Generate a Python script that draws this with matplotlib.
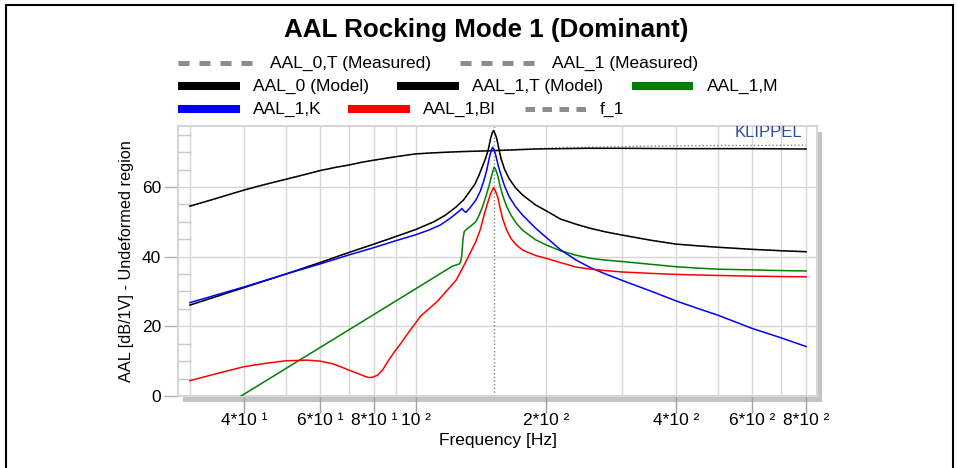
import matplotlib
matplotlib.use('Agg')
import matplotlib.pyplot as plt
from matplotlib.lines import Line2D
from matplotlib.patches import Rectangle
from matplotlib.ticker import FixedLocator, FixedFormatter, NullFormatter

plt.rcParams['font.family'] = ['Liberation Sans', 'DejaVu Sans']

W, H = 958, 468

# ---- data (Hz, dB) ----
aal0_f = [30, 33, 36, 40, 45, 50, 55, 60, 65, 70, 75, 80, 90, 100, 110, 124, 150, 190, 216, 250, 300,
          400, 500, 600, 800]
aal0_model = [54.5, 56.0, 57.4, 59.1, 60.8, 62.2, 63.5, 64.7, 65.6, 66.3, 67.1, 67.7, 68.7, 69.5, 69.8,
              70.1, 70.4, 70.9, 71.0, 71.1, 71.1, 71.0, 71.0, 71.0, 70.9]
aal0_meas = [54.5, 56.0, 57.4, 59.1, 60.8, 62.2, 63.5, 64.7, 65.6, 66.3, 67.1, 67.7, 68.7, 69.5, 69.8,
             70.1, 70.5, 71.0, 71.3, 71.4, 71.6, 71.8, 71.9, 71.9, 72.0]

aal1t_f = [30, 40, 50, 60, 70, 80, 90, 100, 110, 117, 124, 129, 133, 137, 140, 143, 145, 147, 149,
           150.3, 151.3, 152.5, 153.8, 155.5, 157.4, 160.5, 164.4, 170, 176.6, 189.5, 200, 216, 235,
           254, 275, 300, 350, 400, 450, 500, 600, 700, 800]
aal1t_model = [26.1, 31.1, 35.0, 38.3, 41.2, 43.6, 45.8, 47.8, 50.0, 51.9, 54.3, 56.3, 58.6, 60.8, 63.4,
               66.3, 68.2, 70.6, 74.0, 75.6, 76.2, 75.3, 74.0, 71.2, 68.2, 65.0, 62.4, 59.8, 57.7, 54.8,
               53.2, 50.8, 49.3, 48.1, 47.1, 46.2, 44.7, 43.6, 43.1, 42.7, 42.1, 41.7, 41.4]
# measured AAL_1 sits right under the model curve
aal1_meas = [26.1, 31.1, 35.0, 38.3, 41.2, 43.6, 45.8, 47.8, 50.0, 51.9, 54.3, 56.3, 58.6, 60.8, 63.4,
             66.3, 68.2, 70.6, 74.0, 75.5, 76.0, 75.2, 74.0, 71.2, 68.2, 65.0, 62.4, 59.8, 57.7, 54.8,
             53.2, 50.8, 49.3, 48.1, 47.1, 46.2, 44.7, 43.6, 43.1, 42.7, 42.1, 41.7, 41.5]

aal1k_f = [30, 40, 50, 60, 70, 80, 90, 100, 107, 114, 120, 124, 126.5, 127.8, 129, 130.5, 133, 137.6,
           141, 143.8, 146, 147.8, 149.3, 150.5, 151.8, 153, 155, 157.4, 160.5, 164.4, 170, 176.6, 189.5,
           200, 216, 235, 254, 275, 300, 350, 400, 450, 500, 600, 700, 800]
aal1k = [26.8, 31.3, 35.0, 37.9, 40.5, 42.6, 44.6, 46.3, 47.6, 49.1, 51.0, 52.4, 53.3, 53.8, 53.2, 52.7,
         53.8, 56.2, 58.8, 62.0, 65.0, 68.2, 70.3, 71.4, 70.6, 69.2, 66.3, 63.4, 60.2, 57.2, 54.4, 51.9,
         48.1, 45.6, 42.0, 39.0, 36.8, 35.0, 33.2, 30.1, 27.3, 25.1, 23.2, 19.4, 16.7, 14.2]

aal1m_f = [39.4, 100, 121.6, 124, 126, 127, 127.6, 128.2, 128.6, 129.4, 131.7, 134, 137.6, 140, 142.6,
           145, 147.8, 150, 151.8, 153, 154.6, 156.5, 158.7, 162, 166, 171, 176.6, 189.5, 200, 216,
           235, 254, 275, 300, 350, 400, 450, 500, 600, 700, 800]
aal1m = [0.0, 30.8, 37.3, 37.6, 37.9, 38.6, 40.0, 43.0, 45.2, 47.2, 48.1, 48.8, 50.0, 51.8, 54.3,
         57.0, 60.5, 63.6, 65.7, 65.0, 63.4, 60.5, 57.7, 54.6, 51.9, 49.5, 47.6, 44.8, 43.4, 41.7,
         40.4, 39.5, 39.0, 38.6, 37.8, 37.1, 36.7, 36.4, 36.2, 36.0, 35.9]

aal1bl_f = [30, 35, 40, 45, 50, 56, 60, 64, 67, 70, 73.3, 76, 77.9, 79.5, 81.6, 84, 86, 89, 92.3, 96.5,
            102.7, 112, 124, 130.5, 137.6, 141, 143.8, 146.5, 149.1, 151.3, 152.8, 154.6, 156.5,
            158.7, 162, 166, 171, 176.6, 189.5, 202, 216, 235, 254, 275, 300, 350, 400, 500, 600, 800]
aal1bl = [4.4, 6.6, 8.4, 9.4, 10.1, 10.3, 10.0, 9.3, 8.4, 7.4, 6.5, 5.7, 5.3, 5.4, 6.0, 7.7, 9.8, 12.5,
          15.1, 18.5, 23.0, 27.1, 33.3, 38.5, 44.3, 47.8, 51.9, 55.3, 58.2, 59.8, 58.9, 57.2, 54.2,
          51.0, 47.8, 45.2, 43.3, 41.9, 40.3, 39.4, 38.3, 37.0, 36.4, 36.0, 35.6, 35.2, 34.9, 34.6,
          34.4, 34.2]

f_1 = 151.3

xticks = [40, 60, 80, 100, 200, 400, 600, 800]
xtick_labels = ['4*10 ¹', '6*10 ¹', '8*10 ¹', '10 ²', '2*10 ²', '4*10 ²', '6*10 ²', '8*10 ²']
xgrid_minor = [30, 50, 70, 90, 300, 500, 700]
yticks = [0, 20, 40, 60]

# ---- figure ----
fig = plt.figure(figsize=(W / 100, H / 100), dpi=100)

def fx(x):
    return x / W

def fy(y):
    return 1 - y / H

ax_l, ax_r, ax_t, ax_b = 178, 817, 126, 396
ax = fig.add_axes([fx(ax_l), fy(ax_b), (ax_r - ax_l) / W, (ax_b - ax_t) / H])

# drop shadow behind plot box
fig.add_artist(Rectangle((fx(ax_l + 5), fy(ax_b + 6)), (ax_r - ax_l) / W, (ax_b - ax_t) / H,
                         transform=fig.transFigure, facecolor='#c4c4c4', edgecolor='none', zorder=-1))

# outer frame
fig.add_artist(Rectangle((fx(6), fy(475)), (953 - 6) / W, (475 - 5) / H, transform=fig.transFigure,
                         facecolor='none', edgecolor='black', linewidth=1.5, zorder=5))

lw = 1.1
ax.plot(aal0_f, aal0_meas, color='#808080', linestyle=':', lw=1.0, zorder=2)
ax.plot(aal1t_f, aal1_meas, color='#808080', linestyle=':', lw=1.0, zorder=2)
ax.axvline(f_1, color='#808080', linestyle=':', lw=1.0, zorder=2)
ax.plot(aal0_f, aal0_model, color='black', lw=lw, zorder=3)
ax.plot(aal1t_f, aal1t_model, color='black', lw=lw, zorder=3)
ax.plot(aal1m_f, aal1m, color='#008000', lw=lw, zorder=3)
ax.plot(aal1k_f, aal1k, color='#0000ff', lw=lw, zorder=3)
ax.plot(aal1bl_f, aal1bl, color='#ff0000', lw=lw, zorder=3)

ax.set_xscale('log')
ax.set_xlim(28.15, 848)
ax.set_ylim(0, 77.5)

ax.xaxis.set_major_locator(FixedLocator(xticks))
ax.xaxis.set_major_formatter(FixedFormatter(xtick_labels))
ax.xaxis.set_minor_locator(FixedLocator(xgrid_minor))
ax.xaxis.set_minor_formatter(NullFormatter())
ax.yaxis.set_major_locator(FixedLocator(yticks))
ax.yaxis.set_minor_locator(FixedLocator([v for v in range(5, 80, 5) if v % 20]))

ax.grid(True, which='both', axis='x', color='#d6d6d6', lw=1.0, zorder=0)
ax.grid(True, which='major', axis='y', color='#d6d6d6', lw=1.0, zorder=0)
ax.set_axisbelow(True)

ax.tick_params(axis='x', which='major', direction='out', length=12, color='#a0a0a0', width=1,
               labelsize=12.5, pad=0)
ax.tick_params(axis='x', which='minor', length=0)
ax.tick_params(axis='y', which='major', direction='out', length=10, color='#b0b0b0', width=1,
               labelsize=12.5, pad=2)
ax.tick_params(axis='y', which='minor', direction='in', length=9, color='#c8c8c8', width=1)

for s in ax.spines.values():
    s.set_color('#d6d6d6')
    s.set_linewidth(1.5)

ax.set_xlabel('Frequency [Hz]', fontsize=12.5, labelpad=4)
ax.set_ylabel('AAL [dB/1V] - Undeformed region', fontsize=11.7, labelpad=6)

ax.text(0.9765, 0.959, 'KLIPPEL', transform=ax.transAxes, ha='right', va='baseline',
        fontsize=12, color='#2e4a9a', clip_on=True)

fig.text(fx(486), fy(30), 'AAL Rocking Mode 1 (Dominant)', ha='center', va='center',
         fontsize=18.7, fontweight='bold')

# legend, laid out row by row like the original
dash = (0, (2.2, 2.0))
dash_short = (0, (1.9, 1.5))
legend_rows = [
    (63, [(178, 257, '#8c8c8c', dash, 'AAL_0,T (Measured)', 270),
          (460, 536, '#8c8c8c', dash, 'AAL_1 (Measured)', 552)]),
    (86, [(178, 240, 'black', '-', 'AAL_0 (Model)', 253),
          (397, 459, 'black', '-', 'AAL_1,T (Model)', 472),
          (632, 693, '#008000', '-', 'AAL_1,M', 707)]),
    (109, [(178, 240, '#0000ff', '-', 'AAL_1,K', 253),
           (348, 410, '#ff0000', '-', 'AAL_1,Bl', 423),
           (525, 590, '#8c8c8c', dash_short, 'f_1', 600)]),
]
for y, items in legend_rows:
    for x0, x1, c, ls, label, tx in items:
        w = 5.8 if ls == '-' else 3.6
        fig.add_artist(Line2D([fx(x0), fx(x1)], [fy(y), fy(y)], transform=fig.transFigure,
                              color=c, linestyle=ls, lw=w, solid_capstyle='butt',
                              dash_capstyle='butt'))
        fig.text(fx(tx), fy(y), label, ha='left', va='center', fontsize=12.5)

fig.savefig('out.png', dpi=100)
